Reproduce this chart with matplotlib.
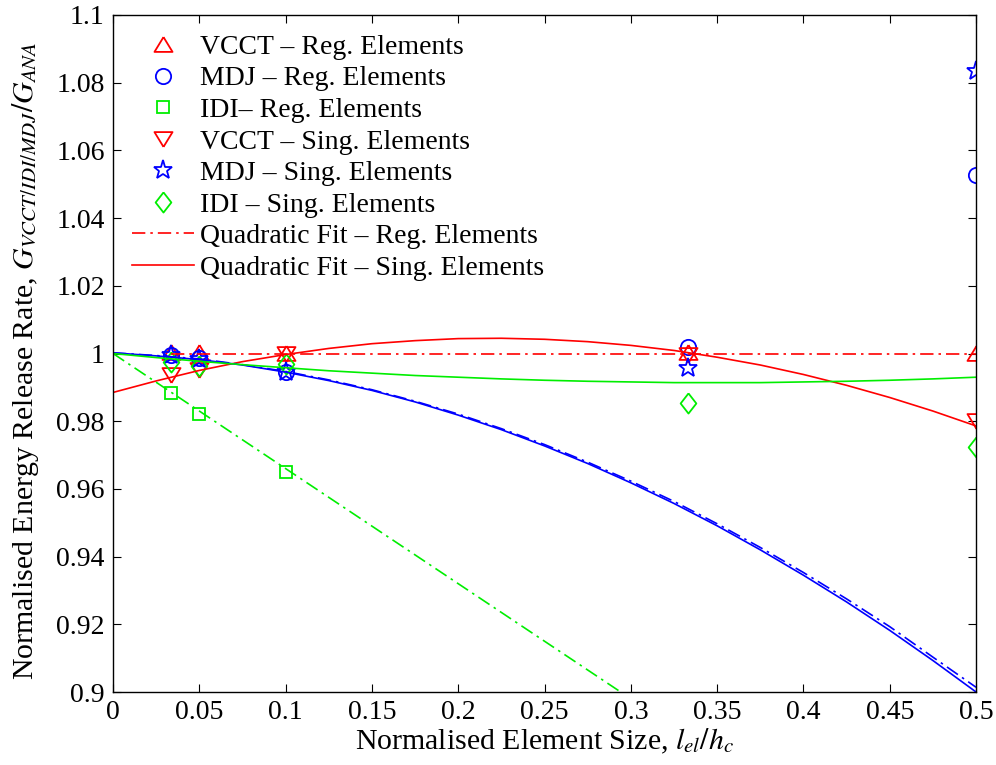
import matplotlib
matplotlib.use('Agg')
import matplotlib.pyplot as plt
import numpy as np

plt.rcParams['font.family'] = 'Liberation Serif'
plt.rcParams['mathtext.fontset'] = 'stix'
plt.rcParams['font.size'] = 20

# element sizes l_el / h_c
x_pts = [1 / 30, 0.05, 0.1, 1 / 3, 0.5]

vcct_reg = [1.0003, 1.0003, 1.0002, 1.0005, 1.0002]
mdj_reg = [0.9997, 0.9987, 0.9945, 1.0019, 1.0527]
idi_reg = [0.9883, 0.9822, 0.9649]
vcct_sing = [0.9936, 0.9950, 0.9998, 0.9995, 0.9802]
mdj_sing = [0.9997, 0.9985, 0.9945, 0.9958, 1.0835]
idi_sing = [0.9974, 0.9962, 0.9970, 0.9854, 0.9725]

# fitted curves
x_fit = [0, 0.025, 0.05, 0.075, 0.10, 0.125, 0.15, 0.175, 0.20, 0.225, 0.25,
         0.275, 0.30, 0.325, 0.35, 0.375, 0.40, 0.425, 0.45, 0.475, 0.50]
fit_red_sing = [0.9885, 0.9919, 0.9950, 0.9976, 0.9997, 1.0015, 1.0029, 1.0038, 1.0044, 1.0045, 1.0042,
                1.0035, 1.0024, 1.0009, 0.9989, 0.9966, 0.9938, 0.9906, 0.9870, 0.9830, 0.9786]
fit_blue_sing = [1.0002, 0.9993, 0.9982, 0.9966, 0.9945, 0.9920, 0.9891, 0.9857, 0.9818, 0.9775, 0.9727,
                 0.9675, 0.9618, 0.9557, 0.9491, 0.9420, 0.9345, 0.9266, 0.9182, 0.9093, 0.9000]
fit_blue_reg = [1.0002, 0.9994, 0.9984, 0.9967, 0.9947, 0.9922, 0.9893, 0.9859, 0.9821, 0.9778, 0.9731,
                0.9679, 0.9623, 0.9563, 0.9497, 0.9427, 0.9353, 0.9275, 0.9193, 0.9103, 0.9014]
fit_green_sing = [1.0000, 0.9988, 0.9977, 0.9967, 0.9958, 0.9949, 0.9942, 0.9935, 0.9930, 0.9925, 0.9921,
                  0.9918, 0.9916, 0.9914, 0.9914, 0.9914, 0.9916, 0.9918, 0.9921, 0.9925, 0.9930]
fit_green_reg_x = [0, 0.30]
fit_green_reg = [1.0000, 0.8980]
fit_red_reg_x = [1 / 30, 0.5]
fit_red_reg = [1.0, 1.0]

RED, BLUE, GREEN = '#ff0000', '#0000ff', '#00ee00'

tri_up = [(0, 0.82), (1, -0.82), (-1, -0.82), (0, 0.82)]
tri_dn = [(0, -0.82), (1, 0.82), (-1, 0.82), (0, -0.82)]
diam = [(0, 1), (0.78, 0), (0, -1), (-0.78, 0), (0, 1)]

fig = plt.figure(figsize=(9.96, 7.65), dpi=100)
ax = fig.add_axes([0.1135, 0.0954, 0.8665, 0.8850])

mk = dict(linestyle='none', markerfacecolor='none', markeredgewidth=1.3)
ax.plot(x_pts, vcct_reg, marker=tri_up, markersize=13, color=RED, label='VCCT – Reg. Elements', **mk)
ax.plot(x_pts, mdj_reg, marker='o', markersize=11, color=BLUE, label='MDJ – Reg. Elements', **mk)
ax.plot(x_pts[:3], idi_reg, marker='s', markersize=9, color=GREEN, label='IDI– Reg. Elements', **mk)
ax.plot(x_pts, vcct_sing, marker=tri_dn, markersize=13, color=RED, label='VCCT – Sing. Elements', **mk)
ax.plot(x_pts, mdj_sing, marker='*', markersize=14, color=BLUE, label='MDJ – Sing. Elements', **mk)
ax.plot(x_pts, idi_sing, marker=diam, markersize=14.5, color=GREEN, label='IDI – Sing. Elements', **mk)

lw = 1.2
dashdot = (0, (8, 3, 1.5, 3))
ax.plot(fit_red_reg_x, fit_red_reg, color=RED, lw=lw, ls=dashdot, label='Quadratic Fit – Reg. Elements')
ax.plot(x_fit, fit_red_sing, color=RED, lw=lw, label='Quadratic Fit – Sing. Elements')
ax.plot(x_fit, fit_blue_reg, color=BLUE, lw=lw, ls=dashdot)
ax.plot(x_fit, fit_blue_sing, color=BLUE, lw=lw)
ax.plot(fit_green_reg_x, fit_green_reg, color=GREEN, lw=lw, ls=dashdot)
ax.plot(x_fit, fit_green_sing, color=GREEN, lw=lw)

ax.set_xlim(0, 0.5)
ax.set_ylim(0.9, 1.1)
ax.set_xticks(np.arange(0, 0.501, 0.05))
ax.set_xticklabels(['0', '0.05', '0.1', '0.15', '0.2', '0.25', '0.3', '0.35', '0.4', '0.45', '0.5'])
ax.set_yticks(np.arange(0.9, 1.1001, 0.02))
ax.set_yticklabels(['0.9', '0.92', '0.94', '0.96', '0.98', '1', '1.02', '1.04', '1.06', '1.08', '1.1'])
ax.tick_params(direction='in', length=6, width=0.8, top=True, right=True, pad=6)
for s in ax.spines.values():
    s.set_linewidth(1.0)

ax.set_xlabel('Normalised Element Size, $l_{el}/h_c$', fontsize=21.5)
ax.set_ylabel('Normalised Energy Release Rate, $G_{VCCT/IDI/MDJ}/G_{ANA}$', fontsize=21.5)
ax.xaxis.set_label_coords(0.5, -0.052)
ax.yaxis.set_label_coords(-0.083, 0.49)

ax.legend(loc='upper left', bbox_to_anchor=(0.0, 1.0), frameon=False,
          handlelength=2.23, handletextpad=0.2, labelspacing=0.22, borderaxespad=0.3)

fig.savefig('out.png', dpi=100)
